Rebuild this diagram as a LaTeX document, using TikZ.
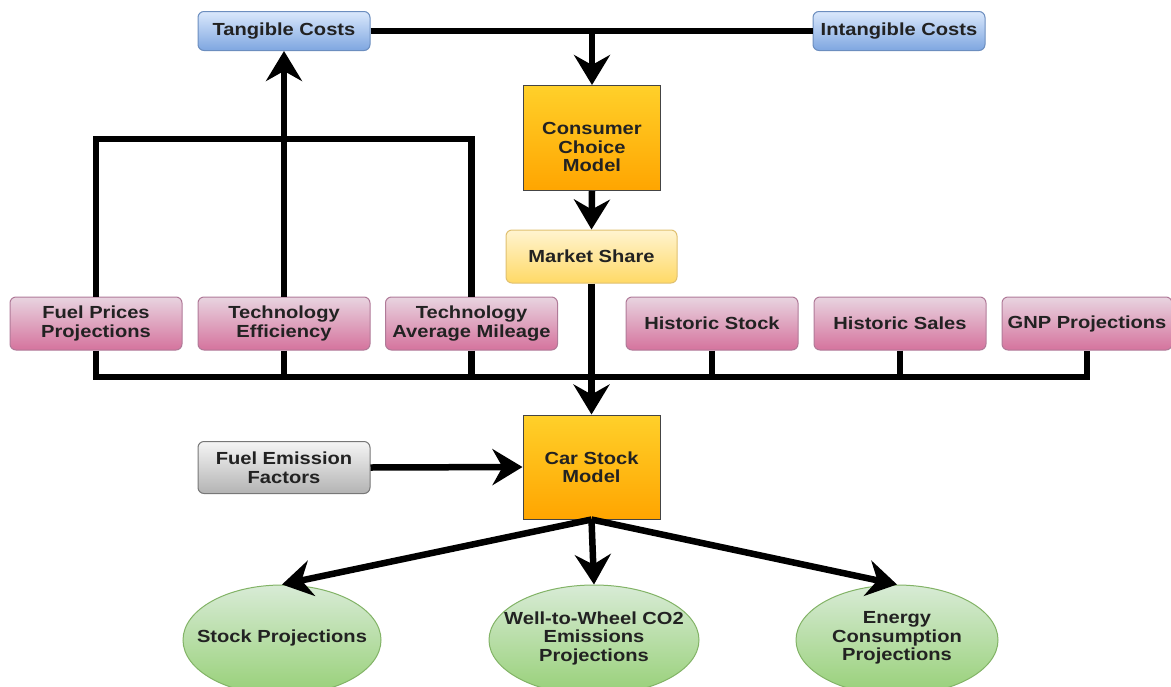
\documentclass[tikz,border=0pt]{standalone}
\usepackage{fontspec}
\newfontfamily\lab{Liberation Sans}[FakeStretch=1.15]
\usetikzlibrary{shapes.geometric,arrows.meta}
\definecolor{txt}{HTML}{222222}
\definecolor{blueT}{HTML}{DAE8FC}\definecolor{blueB}{HTML}{7EA6E0}\definecolor{blueD}{HTML}{6C8EBF}
\definecolor{pinkT}{HTML}{E8D4E0}\definecolor{pinkB}{HTML}{D5739D}\definecolor{pinkD}{HTML}{B07A98}
\definecolor{orT}{HTML}{FFD02A}\definecolor{orB}{HTML}{FFA500}\definecolor{orD}{HTML}{444444}
\definecolor{msT}{HTML}{FFF4D0}\definecolor{msB}{HTML}{FFD966}\definecolor{msD}{HTML}{E0C070}
\definecolor{grT}{HTML}{F5F5F5}\definecolor{grB}{HTML}{B3B3B3}\definecolor{grD}{HTML}{777777}
\definecolor{gnT}{HTML}{D8EBD6}\definecolor{gnB}{HTML}{97D077}\definecolor{gnD}{HTML}{82B366}
\begin{document}
\begin{tikzpicture}[x=1pt,y=-1pt,
  lbl/.style={align=center, inner sep=0pt, text=txt,
    font=\lab\bfseries\fontsize{17.5}{18.5}\selectfont},
  base/.style={lbl, draw, line width=1pt},
  rbox/.style={base, rounded corners=6pt, minimum width=172pt},
  bluebox/.style={rbox, minimum height=39pt, top color=blueT, bottom color=blueB, draw=blueD},
  pinkbox/.style={rbox, minimum height=53pt, top color=pinkT, bottom color=pinkB, draw=pinkD},
  graybox/.style={rbox, minimum height=52pt, top color=grT, bottom color=grB, draw=grD},
  msbox/.style={rbox, minimum width=171pt, minimum height=53pt, top color=msT, bottom color=msB, draw=msD},
  modelbox/.style={base, minimum width=137pt, minimum height=105pt, top color=orT, bottom color=orB, draw=orD},
  outell/.style={draw=gnD, line width=1pt, ellipse, inner sep=0pt, minimum height=110pt, top color=gnT, bottom color=gnB},
  conn/.style={line width=6.5pt, black},
  arr/.style={conn, -{Stealth[length=30pt,width=36pt,inset=10pt]}},
]
\useasboundingbox (0,0) rectangle (1171,686);

% top row
\node[bluebox] (tc) at (284,31) {\raisebox{-1.5pt}{Tangible Costs}};
\node[bluebox] (ic) at (899,31) {\raisebox{-1.5pt}{Intangible Costs}};

% models
\node[modelbox] (ccm) at (592,138) {};
\node[lbl] (ccmt) at ([yshift=-9pt]ccm.center) {Consumer\\Choice\\Model};
\node[msbox] (ms) at (591.5,256.5) {Market Share};
\node[modelbox, minimum height=104pt] (csm) at (591.5,467) {Car Stock\\Model};

% input boxes
\node[pinkbox] (fp) at (96,323.5) {Fuel Prices\\Projections};
\node[pinkbox] (te) at (284,323.5) {Technology\\Efficiency};
\node[pinkbox] (tam) at (471.5,323.5) {Technology\\Average Mileage};
\node[pinkbox] (hs) at (712,323.5) {Historic Stock};
\node[pinkbox] (hsa) at (900,323.5) {Historic Sales};
\node[pinkbox, minimum width=170pt] (gnp) at (1087,323.5) {GNP Projections};

\node[graybox] (fef) at (284,467.5) {Fuel Emission\\Factors};

% outputs
\node[outell, minimum width=198pt] (sp) at (282,640) {};
\node[outell, minimum width=210pt] (wtw) at (594,640) {};
\node[outell, minimum width=202pt] (ec) at (897,640) {};
\node[lbl] (spt) at ([yshift=2pt]sp.center) {Stock Projections};
\node[lbl] (wtwt) at ([yshift=2pt]wtw.center) {Well-to-Wheel CO2\\Emissions\\Projections};
\node[lbl] (ect) at ([yshift=2pt]ec.center) {Energy\\Consumption\\Projections};

% helper coordinates
\coordinate (j1) at (ccm.north |- tc.east);
\coordinate (loopY) at (0,139);
\coordinate (busY) at (0,377);

% connectors
\draw[conn] (tc.east) -- (ic.west);
\draw[arr] (j1) -- (ccm.north);
\draw[arr] (ccm.south) -- (ms.north);
\draw[arr] (te.north) -- (tc.south);
\draw[conn] (fp.north) |- (tam.north |- loopY) -- (tam.north);
\draw[conn] (fp.south) |- (gnp.south |- busY) -- (gnp.south);
\draw[conn] (te.south) -- (te.south |- busY);
\draw[conn] (tam.south) -- (tam.south |- busY);
\draw[conn] (hs.south) -- (hs.south |- busY);
\draw[conn] (hsa.south) -- (hsa.south |- busY);
\draw[arr] (ms.south) -- (csm.north);
\draw[arr] (fef.east) -- (csm.west);
\draw[arr] (csm.south) -- (sp.north);
\draw[arr] (csm.south) -- (wtw.north);
\draw[arr] (csm.south) -- (ec.north);
\end{tikzpicture}
\end{document}
